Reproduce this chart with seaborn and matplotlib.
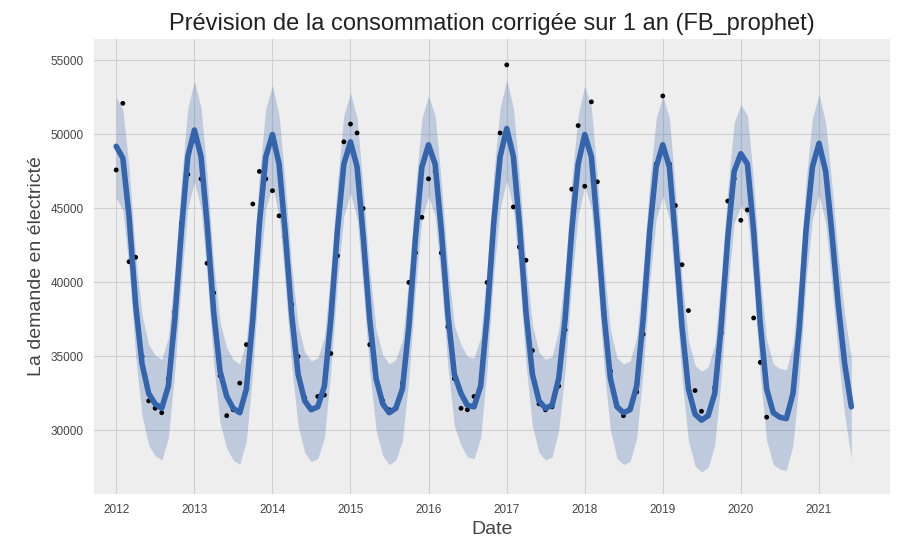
import matplotlib
matplotlib.use("Agg")
import matplotlib.pyplot as plt
import matplotlib.dates as mdates
import seaborn as sns
import pandas as pd
import numpy as np

# Forecast (yhat), monthly Jan..Dec per year
yhat_2012 = [49200, 48400, 44500, 38500, 34500, 32500, 31800, 31500, 33000, 37500, 43500, 48500]
yhat_2013 = [50300, 48500, 44000, 38000, 34000, 32300, 31500, 31200, 32800, 37500, 44000, 48500]
yhat_2014 = [50000, 48000, 43500, 37800, 33800, 32000, 31400, 31600, 33000, 37500, 43500, 48000]
yhat_2015 = [49500, 47800, 43200, 37500, 33500, 31800, 31200, 31500, 32800, 37000, 43000, 47800]
yhat_2016 = [49300, 48000, 43500, 37800, 33800, 32500, 31700, 31600, 33000, 37700, 44000, 48500]
yhat_2017 = [50400, 48500, 44000, 38000, 33800, 32000, 31500, 31700, 33500, 37500, 43500, 48000]
yhat_2018 = [50000, 48500, 43800, 37800, 33500, 31600, 31200, 31400, 33000, 37500, 43500, 47800]
yhat_2019 = [49300, 47800, 43000, 37000, 32800, 31100, 30700, 31000, 32500, 37000, 43000, 47500]
yhat_2020 = [48700, 48000, 43500, 37200, 32800, 31200, 30900, 30800, 32500, 37000, 43500, 47800]
yhat_2021 = [49400, 47500, 43500, 38500, 34500, 31600]
yhat = (yhat_2012 + yhat_2013 + yhat_2014 + yhat_2015 + yhat_2016 + yhat_2017
        + yhat_2018 + yhat_2019 + yhat_2020 + yhat_2021)
band_lower = [v - 3500 for v in yhat]
band_upper = [v + 3300 for v in yhat]

# Observed values
obs_2012 = [47600, 52100, 41400, 41700, 35000, 32000, 31500, 31200, 33500, 38000, 44000, 47300]
obs_2013 = [49600, 47000, 41300, 39300, 33700, 31000, 31400, 33200, 35800, 45300, 47500, 47000]
obs_2014 = [46200, 44500, 43100, 38500, 35000, 32200, 31500, 32300, 32400, 35200, 41800, 49500]
obs_2015 = [50700, 50100, 45000, 35800, 33500, 32000, 31400, 31500, 33200, 40000, 42000, 44400]
obs_2016 = [47000, 47500, 42000, 37000, 33500, 31500, 31400, 32300, 33000, 40000, 44000, 50100]
obs_2017 = [54700, 45100, 42400, 41500, 35400, 31800, 31400, 31600, 33000, 36800, 46300, 50600]
obs_2018 = [46500, 52200, 46800, 38000, 34000, 31600, 31000, 31500, 32600, 36500, 43000, 48000]
obs_2019 = [52600, 48000, 45200, 41200, 38100, 32700, 31300, 31000, 32900, 36600, 45500, 47000]
obs_2020 = [44200, 44900, 37600, 34600, 30900, 31200]
obs = obs_2012 + obs_2013 + obs_2014 + obs_2015 + obs_2016 + obs_2017 + obs_2018 + obs_2019 + obs_2020

dates = pd.date_range("2012-01-01", periods=len(yhat), freq="MS")
obs_dates = dates[:len(obs)]
df = pd.DataFrame({"ds": dates, "yhat": yhat, "lo": band_lower, "hi": band_upper})
dfo = pd.DataFrame({"ds": obs_dates, "y": obs})

sns.set_style("darkgrid", {"axes.facecolor": "#EEEEEE", "grid.color": "#CFCFCF", "axes.edgecolor": "white"})
plt.rcParams['font.family'] = ['Liberation Sans', 'DejaVu Sans']
fig, ax = plt.subplots(figsize=(9.04, 5.46), dpi=100)
fig.patch.set_facecolor("white")
ax.fill_between(df["ds"], df["lo"], df["hi"], color="#3464AC", alpha=0.25, linewidth=0)
sns.lineplot(data=df, x="ds", y="yhat", ax=ax, color="#3464AC", linewidth=4)
sns.scatterplot(data=dfo, x="ds", y="y", ax=ax, color="black", s=12, edgecolor="none")

ax.xaxis.set_major_locator(mdates.YearLocator())
ax.xaxis.set_major_formatter(mdates.DateFormatter("%Y"))
ax.set_xlim(pd.Timestamp("2011-09-15"), pd.Timestamp("2021-12-01"))
ax.set_ylim(25700, 56500)
ax.set_yticks([30000, 35000, 40000, 45000, 50000, 55000])
ax.tick_params(labelsize=8.5, colors="#444444")
ax.set_xlabel("Date", fontsize=14, color="#444444")
ax.set_ylabel("La demande en électricté", fontsize=14, color="#444444")
ax.set_title("Prévision de la consommation corrigée sur 1 an (FB_prophet)", fontsize=17, color="#222222")
fig.subplots_adjust(left=0.103, right=0.985, top=0.93, bottom=0.095)
fig.savefig("out.png", dpi=100)
